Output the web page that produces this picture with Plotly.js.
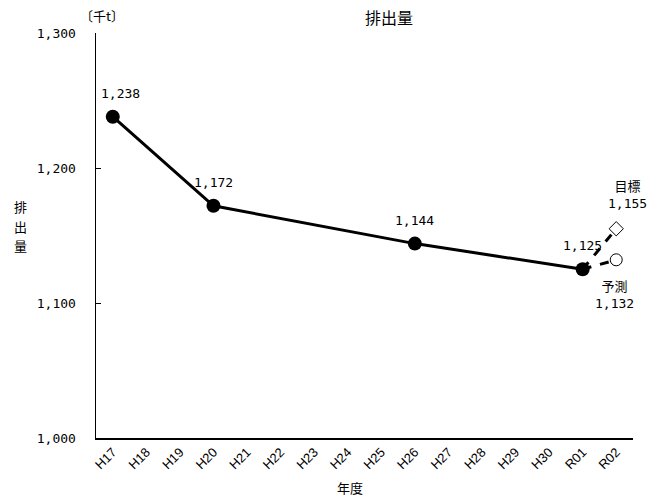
<!DOCTYPE html>
<html>
<head>
<meta charset="utf-8">
<script src="https://cdn.plot.ly/plotly-3.0.1.min.js"></script>
<style>
  html, body { margin: 0; padding: 0; background: #fff; }
  #chart { width: 649px; height: 502px; }
</style>
</head>
<body>
<div id="chart"></div>
<script>
// Fiscal years on the category axis
const years = ['H17','H18','H19','H20','H21','H22','H23','H24','H25','H26','H27','H28','H29','H30','R01','R02'];

// Recorded emissions (thousand tonnes)
const actualYears = ['H17','H20','H26','R01'];
const actualValues = [1238, 1172, 1144, 1125];

// Outlook for R02
const goalYear = 'R02';
const goalValue = 1155;      // 目標
const forecastValue = 1132;  // 予測

const yTicks = [1000, 1100, 1200, 1300];

const fmt = v => v.toLocaleString('en-US');
const numFont = { family: 'DejaVu Sans Mono, monospace', size: 13, color: '#000' };
const jpFont = { family: 'Noto Sans CJK JP, sans-serif', size: 13, color: '#000' };

const lastYear = actualYears[actualYears.length - 1];
const lastValue = actualValues[actualValues.length - 1];

const traces = [
  {
    x: [lastYear, goalYear], y: [lastValue, goalValue],
    mode: 'lines', line: { color: '#000', width: 3, dash: 'dash' },
    hoverinfo: 'skip', showlegend: false
  },
  {
    x: [lastYear, goalYear], y: [lastValue, forecastValue],
    mode: 'lines', line: { color: '#000', width: 3, dash: 'dash' },
    hoverinfo: 'skip', showlegend: false
  },
  {
    x: actualYears, y: actualValues,
    mode: 'lines+markers',
    line: { color: '#000', width: 3 },
    marker: { color: '#000', size: 14, symbol: 'circle' },
    showlegend: false
  },
  {
    x: [goalYear], y: [goalValue],
    mode: 'markers',
    marker: { symbol: 'diamond', size: 11, color: '#fff', line: { color: '#000', width: 1 } },
    showlegend: false
  },
  {
    x: [goalYear], y: [forecastValue],
    mode: 'markers',
    marker: { symbol: 'circle', size: 12, color: '#fff', line: { color: '#000', width: 1 } },
    showlegend: false
  }
];

// Value labels above the recorded points
const annotations = actualYears.map((yr, i) => ({
  x: yr, y: actualValues[i], xref: 'x', yref: 'y',
  text: fmt(actualValues[i]), showarrow: false,
  yanchor: 'bottom', xanchor: 'center',
  yshift: 14, xshift: i === 0 ? 8 : 0,
  font: numFont
}));

annotations.push(
  { x: goalYear, y: goalValue, xref: 'x', yref: 'y', showarrow: false,
    text: '<span style="font-family:Noto Sans CJK JP;font-size:13px">目標</span><br>' + fmt(goalValue),
    yanchor: 'bottom', xanchor: 'center', yshift: 16, xshift: 11, font: numFont },
  { x: goalYear, y: forecastValue, xref: 'x', yref: 'y', showarrow: false,
    text: '<span style="font-family:Noto Sans CJK JP;font-size:13px">予測</span><br>' + fmt(forecastValue),
    yanchor: 'top', xanchor: 'center', yshift: -14, xshift: -2, font: numFont },
  { x: 0.011, y: 1.044, xref: 'paper', yref: 'paper', showarrow: false,
    text: '〔千t〕', xanchor: 'center', yanchor: 'middle', font: jpFont },
  { x: 0.473, y: -0.121, xref: 'paper', yref: 'paper', showarrow: false,
    text: '年度', xanchor: 'center', yanchor: 'middle', font: jpFont }
);

// Vertical axis caption, one character per line
['排', '出', '量'].forEach((ch, i) => {
  annotations.push({
    x: -0.14, y: (438 - 207 - i * 19) / 405, xref: 'paper', yref: 'paper', showarrow: false,
    text: ch, xanchor: 'center', yanchor: 'middle', font: jpFont
  });
});

const layout = {
  width: 649, height: 502,
  margin: { l: 96, r: 16, t: 33, b: 64 },
  paper_bgcolor: '#fff', plot_bgcolor: '#fff',
  title: {
    text: '排出量', x: 354 / 649, xref: 'paper', y: 1 - 18 / 502, yref: 'container',
    xanchor: 'center', yanchor: 'middle',
    font: { family: 'Noto Sans CJK JP, sans-serif', size: 16, color: '#000' }
  },
  xaxis: {
    type: 'category', categoryorder: 'array', categoryarray: years,
    range: [-0.5, years.length - 0.5],
    showline: true, linecolor: '#000', linewidth: 1.5,
    ticks: '', showgrid: false, zeroline: false,
    tickangle: -45, automargin: false,
    tickfont: { family: 'Liberation Sans Narrow, Liberation Sans, sans-serif', size: 13, color: '#000' }
  },
  yaxis: {
    range: [1000, 1300],
    tickvals: yTicks, ticktext: yTicks.map(fmt),
    showline: true, linecolor: '#000', linewidth: 1.5,
    ticks: 'inside', ticklen: 5, tickcolor: '#000', tickwidth: 1,
    ticklabelstandoff: 16,
    showgrid: false, zeroline: false,
    tickfont: numFont
  },
  annotations: annotations
};

Plotly.newPlot('chart', traces, layout, { displayModeBar: false, staticPlot: true });
</script>
</body>
</html>
